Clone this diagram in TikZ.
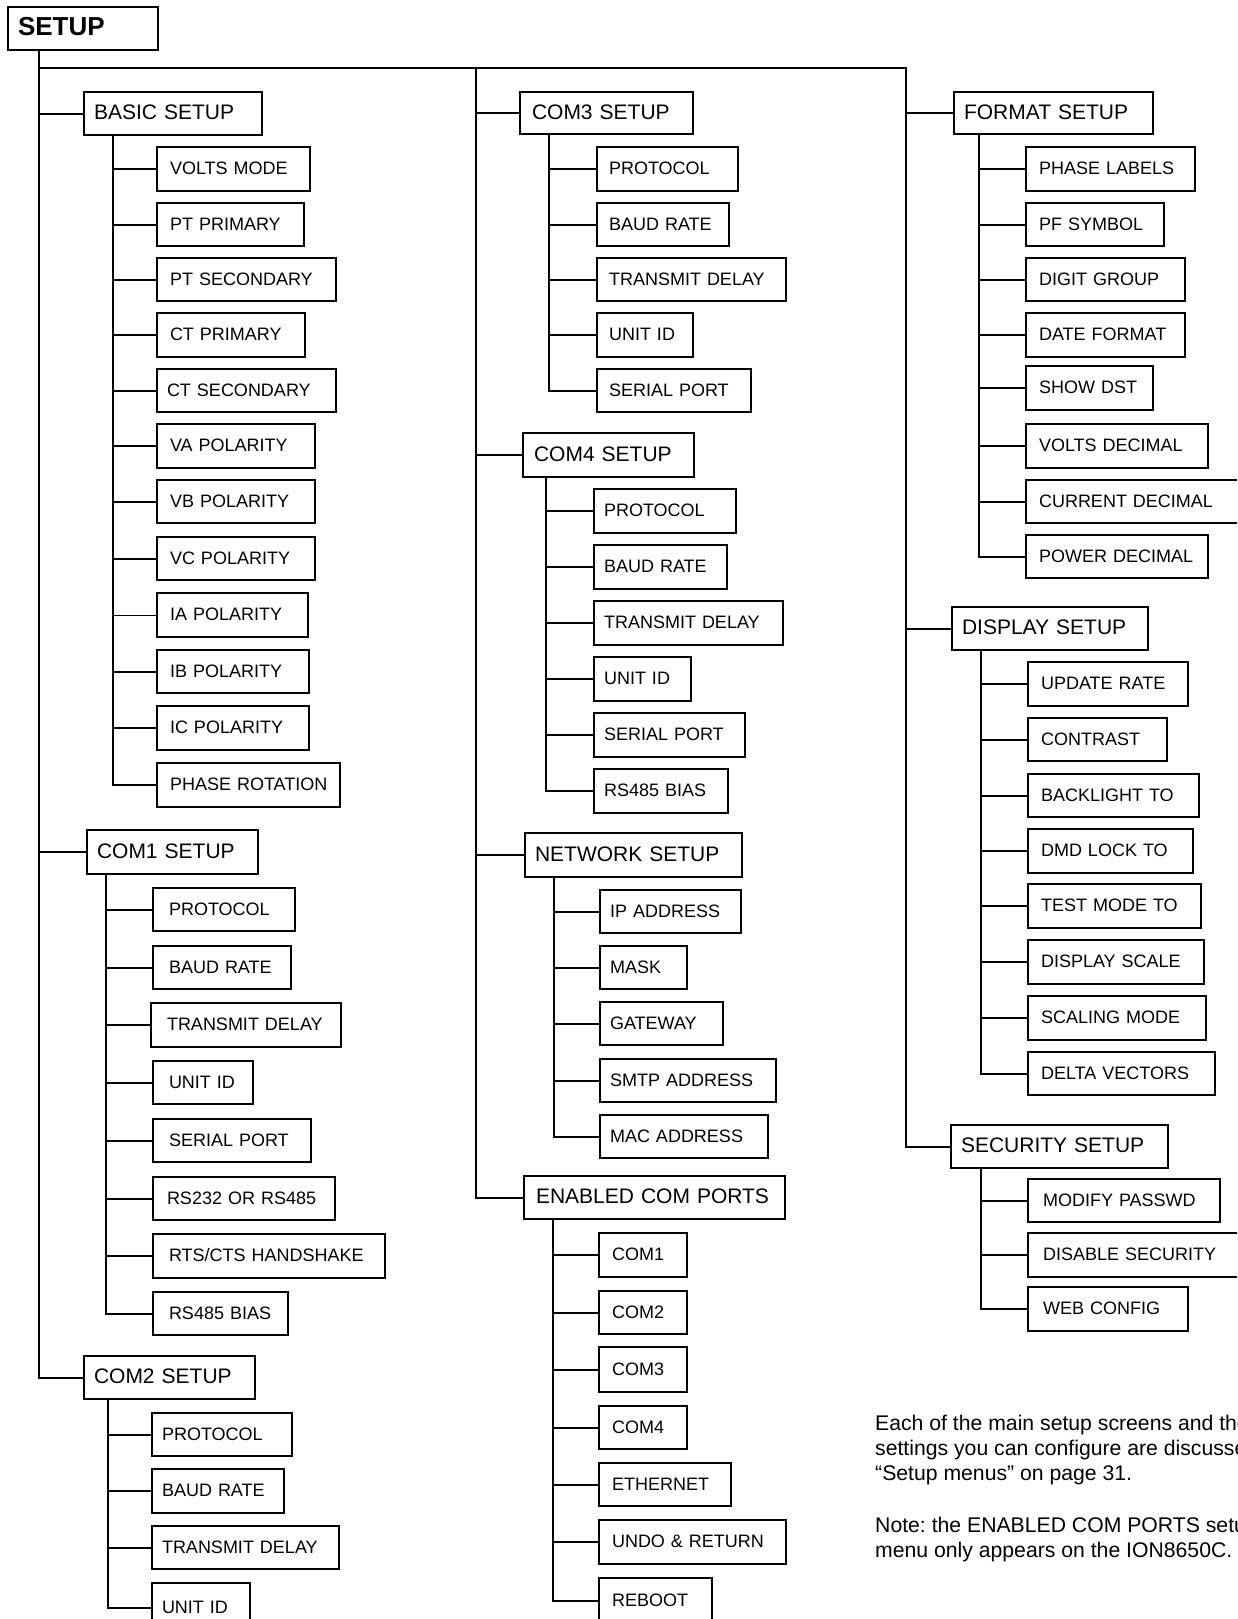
\documentclass[tikz,border=0pt]{standalone}
\usepackage{fontspec}
\setmainfont{Liberation Sans}
\frenchspacing
\newcommand\bx[8]{%
  \pgfmathsetmacro\bxh{#7-#5}%
  \pgfmathsetmacro\bxt{#6-#4-2*#2}%
  \node[#1, inner xsep=#2pt, text width=\bxt pt, minimum height=\bxh pt] (#3) at (#4pt,-#5pt) {\mbox{#8}};}
\tikzset{
  ln/.style={line width=2pt},
  thinln/.style={line width=1pt},
  bxbase/.style={draw, line width=2pt, anchor=north west, inner ysep=0pt, align=left},
  itm/.style={bxbase, font=\fontsize{18}{20}\selectfont, text height=11pt, text depth=0pt},
  hdr/.style={bxbase, font=\fontsize{21}{24}\selectfont, text height=12.5pt, text depth=0pt},
  rootbox/.style={bxbase, font=\bfseries\fontsize{26}{30}\selectfont, text height=14.6pt, text depth=0pt},
  noteline/.style={anchor=base west, inner sep=0pt, font=\fontsize{21.2}{25}\selectfont},
}
\begin{document}
\begin{tikzpicture}
\useasboundingbox (0,0) rectangle (1237pt,-1619pt);
\clip (0,0) rectangle (1237pt,-1619pt);

% root and headers
\bx{rootbox}{10}{setup}{7}{6}{157}{49}{SETUP}
\bx{hdr}{10}{basic}{83}{91}{261}{134}{BASIC SETUP}
\bx{hdr}{10}{comone}{86}{829}{257}{873}{COM1 SETUP}
\bx{hdr}{10}{comtwo}{83}{1355}{254}{1398}{COM2 SETUP}
\bx{hdr}{12}{comthree}{519}{91}{692}{133}{COM3 SETUP}
\bx{hdr}{11}{comfour}{522}{432}{693}{476}{COM4 SETUP}
\bx{hdr}{10}{network}{524}{832}{741}{876}{NETWORK SETUP}
\bx{hdr}{12}{enabled}{523}{1175}{784}{1218}{ENABLED COM PORTS}
\bx{hdr}{10}{format}{953}{91}{1152}{133}{FORMAT SETUP}
\bx{hdr}{10}{display}{951}{606}{1147}{649}{DISPLAY SETUP}
\bx{hdr}{10}{security}{950}{1124}{1167}{1167}{SECURITY SETUP}

% BASIC SETUP children
\bx{itm}{13}{voltsmode}{156}{146}{309}{190}{VOLTS MODE}
\bx{itm}{13}{ptpri}{156}{202}{303}{245}{PT PRIMARY}
\bx{itm}{13}{ptsec}{156}{257}{335}{300}{PT SECONDARY}
\bx{itm}{13}{ctpri}{156}{312}{304}{356}{CT PRIMARY}
\bx{itm}{10}{ctsec}{156}{368}{335}{411}{CT SECONDARY}
\bx{itm}{13}{vapol}{156}{423}{314}{467}{VA POLARITY}
\bx{itm}{13}{vbpol}{156}{479}{314}{522}{VB POLARITY}
\bx{itm}{13}{vcpol}{156}{536}{314}{579}{VC POLARITY}
\bx{itm}{13}{iapol}{156}{592}{307}{636}{IA POLARITY}
\bx{itm}{13}{ibpol}{156}{649}{308}{692}{IB POLARITY}
\bx{itm}{13}{icpol}{156}{705}{308}{749}{IC POLARITY}
\bx{itm}{13}{phrot}{156}{762}{339}{806}{PHASE ROTATION}

% COM1 children
\bx{itm}{16}{aproto}{152}{887}{294}{930}{PROTOCOL}
\bx{itm}{16}{abaud}{152}{945}{290}{988}{BAUD RATE}
\bx{itm}{16}{atx}{150}{1002}{340}{1046}{TRANSMIT DELAY}
\bx{itm}{16}{aunit}{152}{1060}{252}{1103}{UNIT ID}
\bx{itm}{16}{aserial}{152}{1118}{310}{1161}{SERIAL PORT}
\bx{itm}{14}{arsmode}{152}{1176}{334}{1219}{RS232 OR RS485}
\bx{itm}{16}{arts}{152}{1233}{384}{1277}{RTS/CTS HANDSHAKE}
\bx{itm}{16}{abias}{152}{1291}{287}{1334}{RS485 BIAS}

% COM2 children
\bx{itm}{10}{bproto}{151}{1412}{291}{1455}{PROTOCOL}
\bx{itm}{10}{bbaud}{151}{1468}{283}{1512}{BAUD RATE}
\bx{itm}{10}{btx}{151}{1525}{338}{1568}{TRANSMIT DELAY}
\bx{itm}{10}{bunit}{151}{1582}{249}{1632}{UNIT ID}

% COM3 children
\bx{itm}{12}{cproto}{596}{146}{737}{190}{PROTOCOL}
\bx{itm}{12}{cbaud}{596}{202}{728}{245}{BAUD RATE}
\bx{itm}{12}{ctx}{596}{257}{785}{300}{TRANSMIT DELAY}
\bx{itm}{12}{cunit}{596}{312}{692}{356}{UNIT ID}
\bx{itm}{12}{cserial}{596}{368}{750}{411}{SERIAL PORT}

% COM4 children
\bx{itm}{10}{dproto}{593}{488}{735}{532}{PROTOCOL}
\bx{itm}{10}{dbaud}{593}{544}{726}{588}{BAUD RATE}
\bx{itm}{10}{dtx}{593}{600}{782}{644}{TRANSMIT DELAY}
\bx{itm}{10}{dunit}{593}{656}{690}{700}{UNIT ID}
\bx{itm}{10}{dserial}{593}{712}{744}{756}{SERIAL PORT}
\bx{itm}{10}{dbias}{593}{768}{727}{812}{RS485 BIAS}

% NETWORK children
\bx{itm}{10}{ipaddr}{599}{889}{740}{932}{IP ADDRESS}
\bx{itm}{10}{mask}{599}{945}{686}{988}{MASK}
\bx{itm}{10}{gateway}{599}{1001}{722}{1044}{GATEWAY}
\bx{itm}{10}{smtp}{599}{1058}{775}{1101}{SMTP ADDRESS}
\bx{itm}{10}{mac}{599}{1114}{767}{1157}{MAC ADDRESS}

% ENABLED COM PORTS children
\bx{itm}{13}{ecomone}{598}{1232}{686}{1276}{COM1}
\bx{itm}{13}{ecomtwo}{598}{1290}{686}{1333}{COM2}
\bx{itm}{13}{ecomthree}{598}{1346}{686}{1391}{COM3}
\bx{itm}{13}{ecomfour}{598}{1405}{686}{1448}{COM4}
\bx{itm}{13}{ether}{598}{1462}{730}{1505}{ETHERNET}
\bx{itm}{13}{undo}{598}{1519}{785}{1563}{UNDO \& RETURN}
\bx{itm}{13}{reboot}{598}{1577}{711}{1623}{REBOOT}

% FORMAT children
\bx{itm}{13}{phlab}{1025}{146}{1194}{190}{PHASE LABELS}
\bx{itm}{13}{pfsym}{1025}{202}{1163}{245}{PF SYMBOL}
\bx{itm}{13}{digit}{1025}{257}{1184}{300}{DIGIT GROUP}
\bx{itm}{13}{datef}{1025}{312}{1184}{356}{DATE FORMAT}
\bx{itm}{13}{dst}{1025}{365}{1152}{409}{SHOW DST}
\bx{itm}{13}{vdec}{1025}{423}{1207}{467}{VOLTS DECIMAL}
\bx{itm}{13}{idec}{1025}{479}{1250}{522}{CURRENT DECIMAL}
\bx{itm}{13}{pdec}{1025}{534}{1207}{577}{POWER DECIMAL}

% DISPLAY children
\bx{itm}{13}{update}{1027}{661}{1187}{705}{UPDATE RATE}
\bx{itm}{13}{contrast}{1027}{717}{1166}{760}{CONTRAST}
\bx{itm}{13}{backlight}{1027}{773}{1198}{816}{BACKLIGHT TO}
\bx{itm}{13}{dmd}{1027}{828}{1192}{872}{DMD LOCK TO}
\bx{itm}{13}{testmode}{1027}{883}{1200}{927}{TEST MODE TO}
\bx{itm}{13}{dscale}{1027}{939}{1203}{983}{DISPLAY SCALE}
\bx{itm}{13}{smode}{1027}{995}{1205}{1039}{SCALING MODE}
\bx{itm}{13}{delta}{1027}{1051}{1214}{1094}{DELTA VECTORS}

% SECURITY children
\bx{itm}{15}{modpw}{1027}{1178}{1219}{1221}{MODIFY PASSWD}
\bx{itm}{15}{dissec}{1027}{1232}{1250}{1276}{DISABLE SECURITY}
\bx{itm}{15}{webcfg}{1027}{1286}{1187}{1330}{WEB CONFIG}

% trunk lines
\coordinate (mainv) at (39pt,-68pt);
\coordinate (midv) at (476pt,-68pt);
\coordinate (rightv) at (906pt,-68pt);
\draw[ln] (setup.south -| mainv) |- (comtwo.west);
\draw[ln] (mainv) -- (rightv) |- (security.west);
\draw[ln] (midv) |- (enabled.west);
\foreach \c in {basic,comone} \draw[ln] (\c.west) -- (\c.west -| mainv);
\foreach \c in {comthree,comfour,network} \draw[ln] (\c.west) -- (\c.west -| midv);
\foreach \c in {format,display} \draw[ln] (\c.west) -- (\c.west -| rightv);

% sub-trees
\coordinate (bv) at (113pt,0);
\draw[ln] (basic.south -| bv) |- (phrot.west);
\foreach \c in {voltsmode,ptpri,ptsec,ctpri,ctsec,vapol,vbpol,vcpol,ibpol,icpol} \draw[ln] (\c.west) -- (\c.west -| bv);
\draw[thinln] (iapol.west) -- (iapol.west -| bv);

\coordinate (av) at (106pt,0);
\draw[ln] (comone.south -| av) |- (abias.west);
\foreach \c in {aproto,abaud,atx,aunit,aserial,arsmode,arts} \draw[ln] (\c.west) -- (\c.west -| av);

\coordinate (bbv) at (108pt,0);
\draw[ln] (comtwo.south -| bbv) |- (bunit.west);
\foreach \c in {bproto,bbaud,btx} \draw[ln] (\c.west) -- (\c.west -| bbv);

\coordinate (cv) at (549pt,0);
\draw[ln] (comthree.south -| cv) |- (cserial.west);
\foreach \c in {cproto,cbaud,ctx,cunit} \draw[ln] (\c.west) -- (\c.west -| cv);

\coordinate (dv) at (546pt,0);
\draw[ln] (comfour.south -| dv) |- (dbias.west);
\foreach \c in {dproto,dbaud,dtx,dunit,dserial} \draw[ln] (\c.west) -- (\c.west -| dv);

\coordinate (nv) at (554pt,0);
\draw[ln] (network.south -| nv) |- (mac.west);
\foreach \c in {ipaddr,mask,gateway,smtp} \draw[ln] (\c.west) -- (\c.west -| nv);

\coordinate (ev) at (553pt,0);
\draw[ln] (enabled.south -| ev) |- (reboot.west);
\foreach \c in {ecomone,ecomtwo,ecomthree,ecomfour,ether,undo} \draw[ln] (\c.west) -- (\c.west -| ev);

\coordinate (fv) at (979pt,0);
\draw[ln] (format.south -| fv) |- (pdec.west);
\foreach \c in {phlab,pfsym,digit,datef,dst,vdec,idec} \draw[ln] (\c.west) -- (\c.west -| fv);

\coordinate (sv) at (981pt,0);
\draw[ln] (display.south -| sv) |- (delta.west);
\foreach \c in {update,contrast,backlight,dmd,testmode,dscale,smode} \draw[ln] (\c.west) -- (\c.west -| sv);

\draw[ln] (security.south -| sv) |- (webcfg.west);
\foreach \c in {modpw,dissec} \draw[ln] (\c.west) -- (\c.west -| sv);

% note text
\node[noteline] (na) at (875pt,-1430pt) {Each of the main setup screens and the};
\node[noteline] (nb) at (875pt,-1455pt) {settings you can configure are discussed in};
\node[noteline] (nc) at (875pt,-1480pt) {“Setup menus” on page 31.};
\node[noteline] (nd) at (875pt,-1532pt) {Note: the ENABLED COM PORTS setup};
\node[noteline] (ne) at (875pt,-1557pt) {menu only appears on the ION8650C.};
\end{tikzpicture}
\end{document}
